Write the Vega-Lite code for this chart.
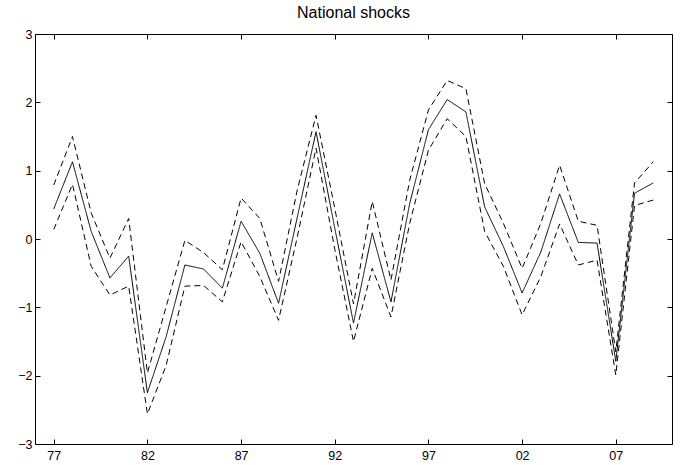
{
  "$schema": "https://vega.github.io/schema/vega-lite/v6.json",
  "width": 637,
  "height": 410,
  "autosize": "none",
  "padding": {"left": 35, "top": 34, "right": 11, "bottom": 21},
  "background": "white",
  "title": {
    "text": "National shocks",
    "font": "Liberation Sans",
    "fontSize": 16,
    "fontWeight": "normal",
    "color": "black",
    "anchor": "middle",
    "offset": 7
  },
  "data": {
    "values": [
      {"year": 1977, "est": 0.44, "hi": 0.79, "lo": 0.14},
      {"year": 1978, "est": 1.13, "hi": 1.50, "lo": 0.80},
      {"year": 1979, "est": 0.11, "hi": 0.38, "lo": -0.40},
      {"year": 1980, "est": -0.57, "hi": -0.28, "lo": -0.82},
      {"year": 1981, "est": -0.25, "hi": 0.30, "lo": -0.69},
      {"year": 1982, "est": -2.25, "hi": -1.96, "lo": -2.56},
      {"year": 1983, "est": -1.43, "hi": -0.99, "lo": -1.85},
      {"year": 1984, "est": -0.38, "hi": -0.02, "lo": -0.69},
      {"year": 1985, "est": -0.44, "hi": -0.20, "lo": -0.68},
      {"year": 1986, "est": -0.72, "hi": -0.45, "lo": -0.92},
      {"year": 1987, "est": 0.26, "hi": 0.60, "lo": -0.04},
      {"year": 1988, "est": -0.21, "hi": 0.30, "lo": -0.55},
      {"year": 1989, "est": -0.94, "hi": -0.62, "lo": -1.19},
      {"year": 1990, "est": 0.32, "hi": 0.72, "lo": 0.03},
      {"year": 1991, "est": 1.57, "hi": 1.81, "lo": 1.33},
      {"year": 1992, "est": 0.16, "hi": 0.45, "lo": -0.15},
      {"year": 1993, "est": -1.23, "hi": -0.95, "lo": -1.50},
      {"year": 1994, "est": 0.09, "hi": 0.55, "lo": -0.43},
      {"year": 1995, "est": -0.92, "hi": -0.60, "lo": -1.14},
      {"year": 1996, "est": 0.52, "hi": 0.86, "lo": 0.23},
      {"year": 1997, "est": 1.60, "hi": 1.89, "lo": 1.30},
      {"year": 1998, "est": 2.04, "hi": 2.32, "lo": 1.76},
      {"year": 1999, "est": 1.86, "hi": 2.20, "lo": 1.50},
      {"year": 2000, "est": 0.47, "hi": 0.81, "lo": 0.11},
      {"year": 2001, "est": -0.11, "hi": 0.23, "lo": -0.40},
      {"year": 2002, "est": -0.79, "hi": -0.43, "lo": -1.11},
      {"year": 2003, "est": -0.19, "hi": 0.23, "lo": -0.55},
      {"year": 2004, "est": 0.66, "hi": 1.08, "lo": 0.22},
      {"year": 2005, "est": -0.05, "hi": 0.26, "lo": -0.38},
      {"year": 2006, "est": -0.06, "hi": 0.20, "lo": -0.31},
      {"year": 2007, "est": -1.79, "hi": -1.65, "lo": -1.99},
      {"year": 2008, "est": 0.67, "hi": 0.82, "lo": 0.49},
      {"year": 2009, "est": 0.82, "hi": 1.13, "lo": 0.57}
    ]
  },
  "transform": [
    {"fold": ["est", "hi", "lo"], "as": ["band", "value"]}
  ],
  "layer": [
    {
      "mark": {"type": "line", "color": "black", "strokeWidth": 1},
      "encoding": {
        "x": {
          "field": "year",
          "type": "quantitative",
          "scale": {"domain": [1976, 2010], "nice": false, "zero": false},
          "axis": {
            "orient": "bottom",
            "title": null,
            "values": [1977, 1982, 1987, 1992, 1997, 2002, 2007],
            "labelExpr": "format(datum.value % 100, '02d')",
            "labelPadding": 10
          }
        },
        "y": {
          "field": "value",
          "type": "quantitative",
          "scale": {"domain": [-3, 3], "nice": false, "zero": false},
          "axis": {
            "orient": "left",
            "title": null,
            "values": [-3, -2, -1, 0, 1, 2, 3],
            "labelPadding": 8
          }
        },
        "detail": {"field": "band"},
        "strokeDash": {
          "field": "band",
          "type": "nominal",
          "scale": {"domain": ["est", "hi", "lo"], "range": [[1, 0], [6, 4], [6, 4]]},
          "legend": null
        }
      }
    },
    {
      "mark": {"type": "point", "opacity": 0},
      "encoding": {
        "x": {
          "field": "year",
          "type": "quantitative",
          "axis": {
            "orient": "top",
            "title": null,
            "values": [1977, 1982, 1987, 1992, 1997, 2002, 2007],
            "labels": false
          }
        },
        "y": {
          "field": "value",
          "type": "quantitative",
          "axis": {
            "orient": "right",
            "title": null,
            "values": [-3, -2, -1, 0, 1, 2, 3],
            "labels": false
          }
        }
      }
    }
  ],
  "resolve": {"axis": {"x": "independent", "y": "independent"}},
  "config": {
    "view": {"stroke": null},
    "axis": {
      "grid": false,
      "domainColor": "black",
      "domainWidth": 1,
      "tickColor": "black",
      "tickWidth": 1,
      "tickSize": -5,
      "labelFont": "Liberation Sans",
      "labelFontSize": 12.5,
      "labelColor": "black"
    }
  }
}
